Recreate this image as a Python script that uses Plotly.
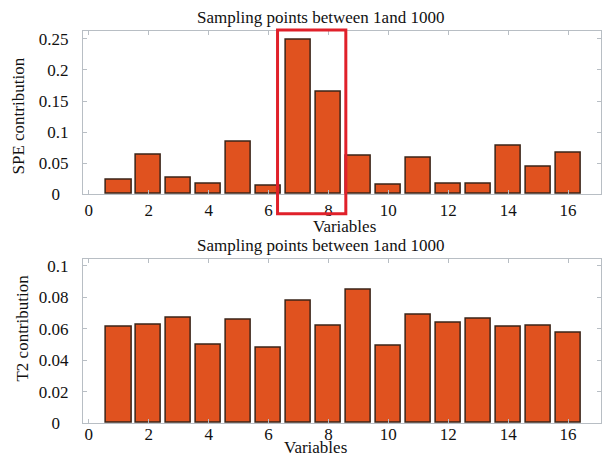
import plotly.graph_objects as go

variables = list(range(1, 17))
spe_values = [0.023, 0.063, 0.026, 0.016, 0.084, 0.013, 0.248, 0.165,
              0.062, 0.015, 0.059, 0.017, 0.017, 0.077, 0.044, 0.067]
t2_values = [0.061, 0.0627, 0.0672, 0.0499, 0.0654, 0.0478, 0.0775, 0.062,
             0.085, 0.0493, 0.0685, 0.0635, 0.066, 0.061, 0.0617, 0.0575]
spe_ticks = [0, 0.05, 0.1, 0.15, 0.2, 0.25]
t2_ticks = [0, 0.02, 0.04, 0.06, 0.08, 0.1]
x_ticks = [0, 2, 4, 6, 8, 10, 12, 14, 16]
title_text = "Sampling points between 1and 1000"
spe_label = "SPE contribution"
t2_label = "T2 contribution"
x_label = "Variables"

W, H = 602, 458          # target picture size (layout positions below are in this space)
FIG_H = 468              # figure height that fills the photographed viewport
FONT = "Liberation Serif"
FS = 17
BAR = "#e0521f"
EDGE = "#3a2418"
AXC = "#b8bec4"

def fx(px):
    return px / W

def fy(py):
    return 1 - py / H

def centered_label(v):
    # MATLAB-like centred tick labels: pad short labels on the right
    s = f"{v:g}"
    width = len(s.replace(".", "")) + (0.3 if "." in s else 0)
    pad = (3.3 - width) / 2
    return s + "\u2007" * int(round(pad))

fig = go.Figure()
fig.add_trace(go.Bar(x=variables, y=spe_values, width=0.84,
                     marker=dict(color=BAR, line=dict(color=EDGE, width=1.5)),
                     xaxis="x", yaxis="y", showlegend=False))
fig.add_trace(go.Bar(x=variables, y=t2_values, width=0.84,
                     marker=dict(color=BAR, line=dict(color=EDGE, width=1.5)),
                     xaxis="x2", yaxis="y2", showlegend=False))

xdom = [fx(83), 1.0]
axis_common = dict(showgrid=False, zeroline=False, showline=True, linecolor=AXC,
                   linewidth=1, mirror="ticks", ticks="inside", ticklen=4,
                   tickcolor=AXC, tickfont=dict(family=FONT, size=FS, color="#111"))

fig.update_layout(
    width=W, height=FIG_H, autosize=False, margin=dict(l=0, r=0, t=0, b=0),
    paper_bgcolor="white", plot_bgcolor="white",
    font=dict(family=FONT, size=FS, color="#111"),
    bargap=0,
    xaxis=dict(domain=xdom, range=[-0.2, 17.1], tickvals=x_ticks, anchor="y",
               ticklabelstandoff=0, **axis_common),
    yaxis=dict(domain=[fy(193), fy(29)], range=[0, 0.263], anchor="x",
               tickvals=spe_ticks, ticktext=[centered_label(v) for v in spe_ticks],
               ticklabelstandoff=10, **axis_common),
    xaxis2=dict(domain=xdom, range=[-0.2, 17.1], tickvals=x_ticks, anchor="y2",
                ticklabelstandoff=-5, **axis_common),
    yaxis2=dict(domain=[fy(423), fy(258)], range=[0, 0.1044], anchor="x2",
                tickvals=t2_ticks, ticktext=[centered_label(v) for v in t2_ticks],
                ticklabelstandoff=10, **axis_common),
)

def text_ann(text, px, py, angle=0, yanchor="middle"):
    return dict(text=text, x=fx(px), y=fy(py), xref="paper", yref="paper",
                xanchor="center", yanchor=yanchor, showarrow=False, borderpad=0,
                textangle=angle, font=dict(family=FONT, size=FS, color="#111"))

ann = [
    text_ann(title_text, 321, 16),
    text_ann(title_text, 321, 245),
    text_ann(spe_label, 19, 114, -90),
    text_ann(t2_label, 23, 327, -90),
    text_ann(x_label, 345, 225),
    text_ann(x_label, 316, H, yanchor="bottom"),
]
fig.update_layout(annotations=ann)

# highlight rectangle around variables 7 and 8
fig.add_shape(type="rect", xref="x", yref="y domain", x0=6.3, x1=8.58,
              y0=-0.12, y1=1.006, line=dict(color="#e0202a", width=3),
              fillcolor="rgba(0,0,0,0)")

page_fix = (
    "var h=document.documentElement, b=document.body;"
    "h.style.margin='0'; b.style.margin='0'; b.style.padding='0';"
    "h.style.overflow='hidden'; b.style.overflow='hidden';"
)
fig.write_html("out.html", config={"displayModeBar": False, "responsive": False},
               post_script=page_fix)
